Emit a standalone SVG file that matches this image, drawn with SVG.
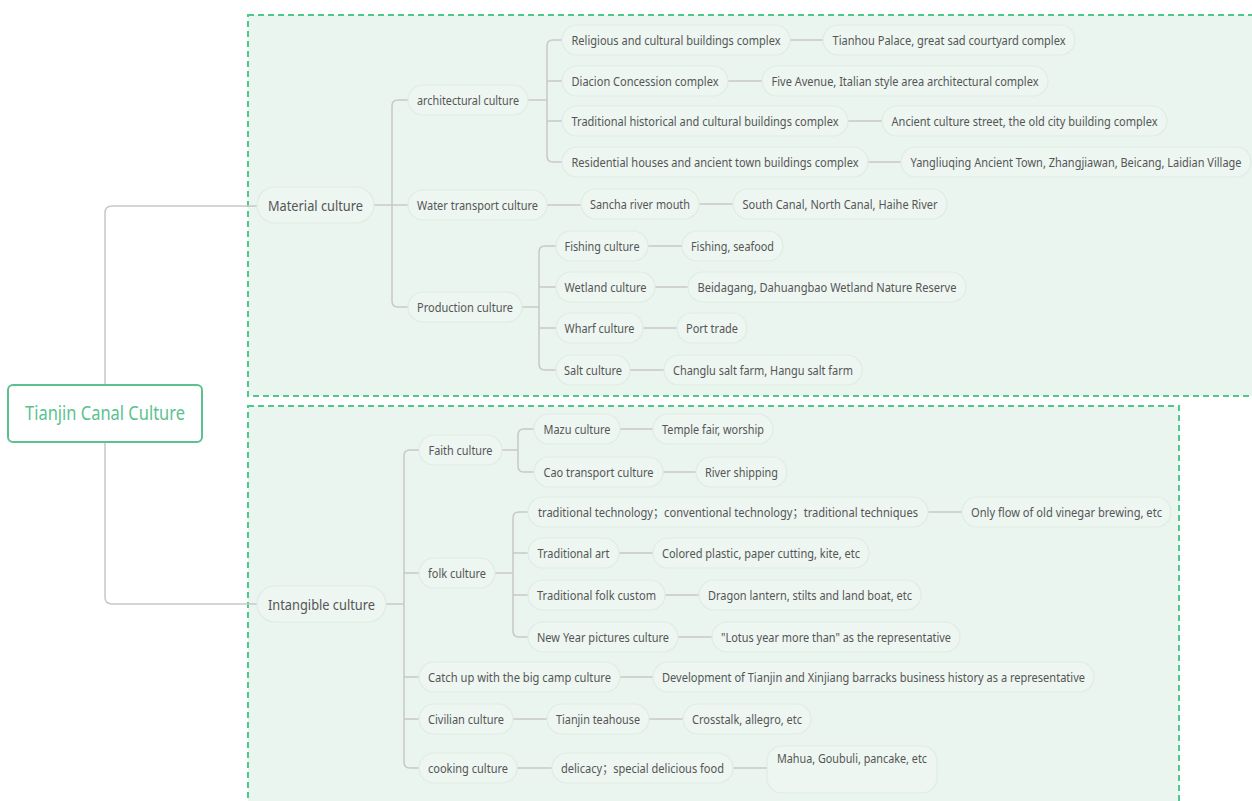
<svg xmlns="http://www.w3.org/2000/svg" width="1252" height="801" viewBox="0 0 1252 801">
<style>
.frame{fill:#ebf5ef;stroke:#4fc88b;stroke-width:2;stroke-dasharray:6 4}
.n rect{fill:#edf6f1;stroke:#dfebe4;stroke-width:1.2}
.n text{font-family:"Noto Sans","Open Sans","Noto Sans CJK SC",sans-serif;font-size:12.5px;fill:#555;text-anchor:middle;dominant-baseline:central}
.n1 text{font-size:14.5px}
.root rect{fill:#fff;stroke:#5cc18e;stroke-width:2}
.root text{font-family:"Noto Sans","Open Sans",sans-serif;font-size:19px;fill:#5cc18e;text-anchor:middle;dominant-baseline:central}
.c path{fill:none;stroke:#c8c8c8;stroke-width:1.5}
</style>
<rect width="1252" height="801" fill="#fff"/>
<rect class="frame" x="248" y="15" width="1020" height="381"/>
<rect class="frame" x="248" y="406" width="931" height="420"/>
<g class="c" id="connectors">
<path d="M105,385 V213 Q105,206 112,206 H257"/>
<path d="M105,442 V597 Q105,604 112,604 H257"/>
<path d="M374,205 H408"/>
<path d="M408,100 H398 Q392,100 392,106 V301 Q392,307 398,307 H408"/>
<path d="M528,100 H547"/>
<path d="M562,40 H553 Q547,40 547,46 V156 Q547,162 553,162 H562"/>
<path d="M547,81 H562 M547,121 H562"/>
<path d="M790,40 H823 M728,81 H762 M848,121 H882 M868,162 H901"/>
<path d="M547,205 H581 M699,204 H733"/>
<path d="M522,307 H539"/>
<path d="M556,246 H545 Q539,246 539,252 V364 Q539,370 545,370 H556"/>
<path d="M539,287 H556 M539,328 H556"/>
<path d="M648,246 H682 M655,287 H688 M643,328 H677 M630,370 H664"/>
<path d="M386,604 H404"/>
<path d="M419,450 H410 Q404,450 404,456 V762 Q404,768 410,768 H419"/>
<path d="M404,573 H419 M404,677 H419 M404,719 H419"/>
<path d="M502,450 H518"/>
<path d="M534,429 H524 Q518,429 518,435 V466 Q518,472 524,472 H534"/>
<path d="M620,429 H653 M663,472 H696"/>
<path d="M495,573 H513"/>
<path d="M528,512 H519 Q513,512 513,518 V631 Q513,637 519,637 H528"/>
<path d="M513,553 H528 M513,595 H528"/>
<path d="M928,512 H962 M619,553 H653 M665,595 H699 M678,637 H712"/>
<path d="M620,677 H653 M513,719 H547 M649,719 H683 M517,768 H552 M733,768 H767"/>
</g>
<g id="root" class="root"><rect x="8" y="385" width="194" height="57" rx="5"/><text x="105" y="413" textLength="160" lengthAdjust="spacingAndGlyphs">Tianjin Canal Culture</text></g>
<g id="material" class="n n1"><rect x="257" y="187" width="117" height="36" rx="18"/><text x="315.5" y="205" textLength="95" lengthAdjust="spacingAndGlyphs">Material culture</text></g>
<g id="arch" class="n"><rect x="408" y="85" width="120" height="30" rx="15"/><text x="468" y="100" textLength="102" lengthAdjust="spacingAndGlyphs">architectural culture</text></g>
<g id="water" class="n"><rect x="408" y="190" width="139" height="30" rx="15"/><text x="477.5" y="205" textLength="121" lengthAdjust="spacingAndGlyphs">Water transport culture</text></g>
<g id="prod" class="n"><rect x="408" y="292" width="114" height="30" rx="15"/><text x="465" y="307" textLength="96" lengthAdjust="spacingAndGlyphs">Production culture</text></g>
<g id="a1" class="n"><rect x="562" y="25" width="228" height="30" rx="15"/><text x="676" y="40" textLength="209" lengthAdjust="spacingAndGlyphs">Religious and cultural buildings complex</text></g>
<g id="a1l" class="n"><rect x="823" y="25" width="252" height="30" rx="15"/><text x="949" y="40" textLength="233" lengthAdjust="spacingAndGlyphs">Tianhou Palace, great sad courtyard complex</text></g>
<g id="a2" class="n"><rect x="562" y="66" width="166" height="30" rx="15"/><text x="645" y="81" textLength="147" lengthAdjust="spacingAndGlyphs">Diacion Concession complex</text></g>
<g id="a2l" class="n"><rect x="762" y="66" width="286" height="30" rx="15"/><text x="905" y="81" textLength="267" lengthAdjust="spacingAndGlyphs">Five Avenue, Italian style area architectural complex</text></g>
<g id="a3" class="n"><rect x="562" y="106" width="286" height="30" rx="15"/><text x="705" y="121" textLength="267" lengthAdjust="spacingAndGlyphs">Traditional historical and cultural buildings complex</text></g>
<g id="a3l" class="n"><rect x="882" y="106" width="285" height="30" rx="15"/><text x="1024.5" y="121" textLength="266" lengthAdjust="spacingAndGlyphs">Ancient culture street, the old city building complex</text></g>
<g id="a4" class="n"><rect x="562" y="147" width="306" height="30" rx="15"/><text x="715" y="162" textLength="287" lengthAdjust="spacingAndGlyphs">Residential houses and ancient town buildings complex</text></g>
<g id="a4l" class="n"><rect x="901" y="147" width="350" height="30" rx="15"/><text x="1076" y="162" textLength="331" lengthAdjust="spacingAndGlyphs">Yangliuqing Ancient Town, Zhangjiawan, Beicang, Laidian Village</text></g>
<g id="w1" class="n"><rect x="581" y="189" width="118" height="30" rx="15"/><text x="640" y="204" textLength="100" lengthAdjust="spacingAndGlyphs">Sancha river mouth</text></g>
<g id="w1l" class="n"><rect x="733" y="189" width="214" height="30" rx="15"/><text x="840" y="204" textLength="195" lengthAdjust="spacingAndGlyphs">South Canal, North Canal, Haihe River</text></g>
<g id="p1" class="n"><rect x="556" y="231" width="92" height="30" rx="15"/><text x="602" y="246" textLength="75" lengthAdjust="spacingAndGlyphs">Fishing culture</text></g>
<g id="p1l" class="n"><rect x="682" y="231" width="101" height="30" rx="15"/><text x="732.5" y="246" textLength="83" lengthAdjust="spacingAndGlyphs">Fishing, seafood</text></g>
<g id="p2" class="n"><rect x="556" y="272" width="99" height="30" rx="15"/><text x="605.5" y="287" textLength="82" lengthAdjust="spacingAndGlyphs">Wetland culture</text></g>
<g id="p2l" class="n"><rect x="688" y="272" width="278" height="30" rx="15"/><text x="827" y="287" textLength="259" lengthAdjust="spacingAndGlyphs">Beidagang, Dahuangbao Wetland Nature Reserve</text></g>
<g id="p3" class="n"><rect x="556" y="313" width="87" height="30" rx="15"/><text x="599.5" y="328" textLength="70" lengthAdjust="spacingAndGlyphs">Wharf culture</text></g>
<g id="p3l" class="n"><rect x="677" y="313" width="70" height="30" rx="15"/><text x="712" y="328" textLength="52" lengthAdjust="spacingAndGlyphs">Port trade</text></g>
<g id="p4" class="n"><rect x="556" y="355" width="74" height="30" rx="15"/><text x="593" y="370" textLength="58" lengthAdjust="spacingAndGlyphs">Salt culture</text></g>
<g id="p4l" class="n"><rect x="664" y="355" width="198" height="30" rx="15"/><text x="763" y="370" textLength="180" lengthAdjust="spacingAndGlyphs">Changlu salt farm, Hangu salt farm</text></g>
<g id="intangible" class="n n1"><rect x="257" y="586" width="129" height="36" rx="18"/><text x="321.5" y="604" textLength="107" lengthAdjust="spacingAndGlyphs">Intangible culture</text></g>
<g id="faith" class="n"><rect x="419" y="435" width="83" height="30" rx="15"/><text x="460.5" y="450" textLength="64" lengthAdjust="spacingAndGlyphs">Faith culture</text></g>
<g id="m1" class="n"><rect x="534" y="414" width="86" height="30" rx="15"/><text x="577" y="429" textLength="67" lengthAdjust="spacingAndGlyphs">Mazu culture</text></g>
<g id="m1l" class="n"><rect x="653" y="414" width="120" height="30" rx="15"/><text x="713" y="429" textLength="102" lengthAdjust="spacingAndGlyphs">Temple fair, worship</text></g>
<g id="m2" class="n"><rect x="534" y="457" width="129" height="30" rx="15"/><text x="598.5" y="472" textLength="110" lengthAdjust="spacingAndGlyphs">Cao transport culture</text></g>
<g id="m2l" class="n"><rect x="696" y="457" width="91" height="30" rx="15"/><text x="741.5" y="472" textLength="73" lengthAdjust="spacingAndGlyphs">River shipping</text></g>
<g id="folk" class="n"><rect x="419" y="558" width="76" height="30" rx="15"/><text x="457" y="573" textLength="58" lengthAdjust="spacingAndGlyphs">folk culture</text></g>
<g id="f1" class="n"><rect x="528" y="497" width="400" height="30" rx="15"/><text x="728" y="512" textLength="380" lengthAdjust="spacingAndGlyphs">traditional technology；conventional technology；traditional techniques</text></g>
<g id="f1l" class="n"><rect x="962" y="497" width="209" height="30" rx="15"/><text x="1066.5" y="512" textLength="191" lengthAdjust="spacingAndGlyphs">Only flow of old vinegar brewing, etc</text></g>
<g id="f2" class="n"><rect x="528" y="538" width="91" height="30" rx="15"/><text x="573.5" y="553" textLength="72" lengthAdjust="spacingAndGlyphs">Traditional art</text></g>
<g id="f2l" class="n"><rect x="653" y="538" width="216" height="30" rx="15"/><text x="761" y="553" textLength="198" lengthAdjust="spacingAndGlyphs">Colored plastic, paper cutting, kite, etc</text></g>
<g id="f3" class="n"><rect x="528" y="580" width="137" height="30" rx="15"/><text x="596.5" y="595" textLength="119" lengthAdjust="spacingAndGlyphs">Traditional folk custom</text></g>
<g id="f3l" class="n"><rect x="699" y="580" width="222" height="30" rx="15"/><text x="810" y="595" textLength="204" lengthAdjust="spacingAndGlyphs">Dragon lantern, stilts and land boat, etc</text></g>
<g id="f4" class="n"><rect x="528" y="622" width="150" height="30" rx="15"/><text x="603" y="637" textLength="132" lengthAdjust="spacingAndGlyphs">New Year pictures culture</text></g>
<g id="f4l" class="n"><rect x="712" y="622" width="248" height="30" rx="15"/><text x="836" y="637" textLength="230" lengthAdjust="spacingAndGlyphs">"Lotus year more than" as the representative</text></g>
<g id="catch" class="n"><rect x="419" y="662" width="201" height="30" rx="15"/><text x="519.5" y="677" textLength="183" lengthAdjust="spacingAndGlyphs">Catch up with the big camp culture</text></g>
<g id="catchl" class="n"><rect x="653" y="662" width="441" height="30" rx="15"/><text x="873.5" y="677" textLength="423" lengthAdjust="spacingAndGlyphs">Development of Tianjin and Xinjiang barracks business history as a representative</text></g>
<g id="civ" class="n"><rect x="419" y="704" width="94" height="30" rx="15"/><text x="466" y="719" textLength="76" lengthAdjust="spacingAndGlyphs">Civilian culture</text></g>
<g id="civ1" class="n"><rect x="547" y="704" width="102" height="30" rx="15"/><text x="598" y="719" textLength="84" lengthAdjust="spacingAndGlyphs">Tianjin teahouse</text></g>
<g id="civ1l" class="n"><rect x="683" y="704" width="128" height="30" rx="15"/><text x="747" y="719" textLength="110" lengthAdjust="spacingAndGlyphs">Crosstalk, allegro, etc</text></g>
<g id="cook" class="n"><rect x="419" y="753" width="98" height="30" rx="15"/><text x="468" y="768" textLength="80" lengthAdjust="spacingAndGlyphs">cooking culture</text></g>
<g id="cook1" class="n"><rect x="552" y="753" width="181" height="30" rx="15"/><text x="642.5" y="768" textLength="163" lengthAdjust="spacingAndGlyphs">delicacy；special delicious food</text></g>
<g id="cook1l" class="n"><rect x="767" y="746" width="170" height="47" rx="15"/><text x="852" y="758" textLength="150" lengthAdjust="spacingAndGlyphs">Mahua, Goubuli, pancake, etc</text></g>
</svg>
